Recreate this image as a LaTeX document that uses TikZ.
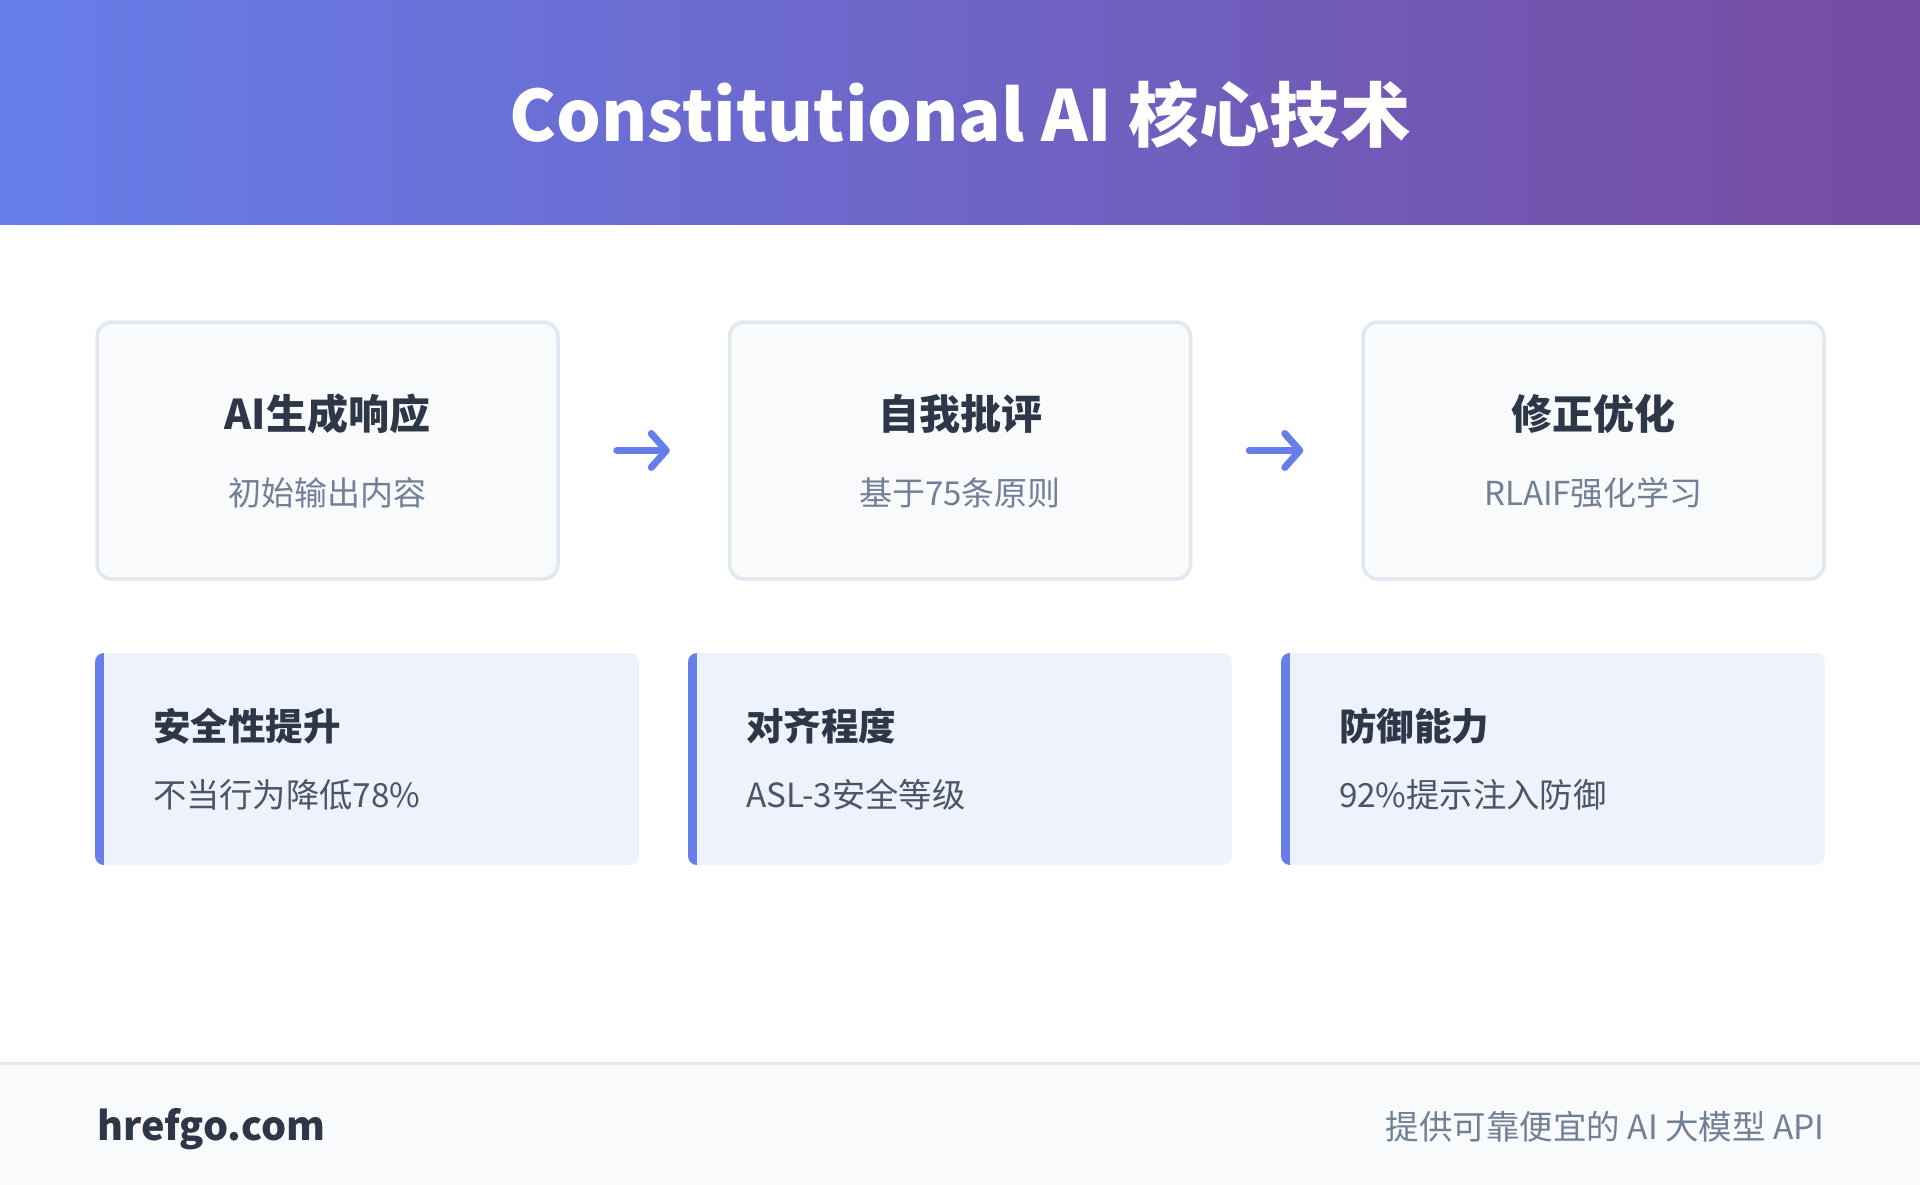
\documentclass[tikz,border=0pt]{standalone}
\usepackage{fontspec}
\setmainfont{Noto Sans CJK SC}
\usetikzlibrary{arrows.meta}
\definecolor{hdrL}{HTML}{667EEA}
\definecolor{hdrR}{HTML}{764BA2}
\definecolor{boxfill}{HTML}{F8FAFC}
\definecolor{boxline}{HTML}{E2E8F0}
\definecolor{cardfill}{HTML}{EEF2FD}
\definecolor{accent}{HTML}{667EEA}
\definecolor{darktxt}{HTML}{2D3748}
\definecolor{subtxt}{HTML}{718096}
\definecolor{cardsub}{HTML}{4A5568}
\tikzset{
  stepbox/.style={draw=boxline, line width=3.5pt, fill=boxfill, rounded corners=15pt,
    minimum width=461pt, minimum height=257pt, inner sep=0pt},
  boxtitle/.style={font=\fontsize{41}{48}\selectfont\bfseries, text=darktxt, inner sep=0pt},
  boxsub/.style={font=\fontsize{33}{38}\selectfont, text=subtxt, inner sep=0pt},
  cardtitle/.style={font=\fontsize{37.5}{42}\selectfont\bfseries, text=darktxt, inner sep=0pt, anchor=west},
  cardsubt/.style={font=\fontsize{33.3}{38}\selectfont, text=cardsub, inner sep=0pt, anchor=west},
  flowarrow/.style={draw=accent, line width=7pt, line cap=round, line join=round,
    -{Straight Barb[length=15pt, width=34pt, line cap=round, line join=round]}},
  cardshape/.style={minimum width=544pt, minimum height=212pt, inner sep=0pt},
}
\begin{document}
\begin{tikzpicture}[x=1pt,y=-1pt]
\useasboundingbox (0,0) rectangle (1920,1185);
\fill[white] (0,0) rectangle (1920,1185);
% header
\shade[left color=hdrL, right color=hdrR] (0,0) rectangle (1920,225);
\node[font=\fontsize{70.5}{80}\selectfont\bfseries, text=white, inner sep=0pt] (title) at (960,114) {Constitutional AI 核心技术};

% step boxes
\node[stepbox] (b1) at (327.5,450.5) {};
\node[stepbox] (b2) at (960,450.5) {};
\node[stepbox] (b3) at (1593.5,450.5) {};
\node[boxtitle] (t1) at (327.5,414) {AI生成响应};
\node[boxsub] (s1) at (327.5,493) {初始输出内容};
\node[boxtitle] (t2) at (960,414) {自我批评};
\node[boxsub] (s2) at (960,493) {基于75条原则};
\node[boxtitle] (t3) at (1593.5,414) {修正优化};
\node[boxsub] (s3) at (1593.5,493) {RLAIF强化学习};

\draw[flowarrow, shorten <=57pt, shorten >=58pt] (b1.east) -- (b2.west);
\draw[flowarrow, shorten <=57pt, shorten >=58pt] (b2.east) -- (b3.west);

% cards
\foreach \cx/\nm in {95/c1, 688/c2, 1281/c3}{
  \begin{scope}
    \clip[rounded corners=9pt] (\cx,653) rectangle ++(544,212);
    \fill[cardfill] (\cx,653) rectangle ++(544,212);
    \fill[accent] (\cx,653) rectangle ++(9,212);
  \end{scope}
  \node[cardshape] (\nm) at (\cx+272,759) {};
}
\node[cardtitle] (ct1) at ([xshift=58pt]c1.west |- 0,726) {安全性提升};
\node[cardsubt] (cs1) at ([xshift=58pt]c1.west |- 0,795) {不当行为降低78\%};
\node[cardtitle] (ct2) at ([xshift=58pt]c2.west |- 0,726) {对齐程度};
\node[cardsubt] (cs2) at ([xshift=58pt]c2.west |- 0,795) {ASL-3安全等级};
\node[cardtitle] (ct3) at ([xshift=58pt]c3.west |- 0,726) {防御能力};
\node[cardsubt] (cs3) at ([xshift=58pt]c3.west |- 0,795) {92\%提示注入防御};

% footer
\fill[boxfill] (0,1063) rectangle (1920,1185);
\draw[boxline, line width=3pt] (0,1063) -- (1920,1063);
\node[font=\fontsize{39.5}{46}\selectfont\bfseries, text=darktxt, inner sep=0pt, anchor=west] (brand) at (97,1129) {hrefgo.com};
\node[font=\fontsize{33.5}{38}\selectfont, text=subtxt, inner sep=0pt, anchor=east] (slogan) at (1825,1127) {提供可靠便宜的 AI 大模型 API};
\end{tikzpicture}
\end{document}
